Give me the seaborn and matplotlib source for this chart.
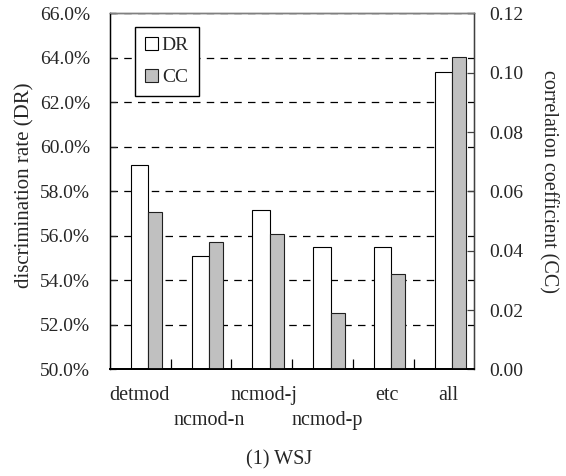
import matplotlib
matplotlib.use("Agg")
import matplotlib.pyplot as plt
import matplotlib.patches as mpatches
from matplotlib.ticker import FuncFormatter, MultipleLocator, FixedLocator
from matplotlib.transforms import blended_transform_factory, ScaledTranslation
import seaborn as sns
import pandas as pd

categories = ["detmod", "ncmod-n", "ncmod-j", "ncmod-p", "etc", "all"]
dr_values = [59.2, 55.1, 57.15, 55.5, 55.5, 63.35]
cc_values = [0.0529, 0.0428, 0.0455, 0.0189, 0.032, 0.1054]
label_rows = [0, 1, 0, 1, 0, 0]
label_shift_px = [-1, 8, 2, 4.5, 3.5, 4]
series_names = ["DR", "CC"]
title_text = "(1) WSJ"

sns.set_style("white")
plt.rcParams["font.family"] = ["Liberation Serif", "DejaVu Serif"]
plt.rcParams["font.size"] = 14

FS = 14

fig = plt.figure(figsize=(5.66, 4.76), dpi=100)
ax = fig.add_axes([0.194, 0.224, 0.644, 0.748])
ax2 = ax.twinx()

df = pd.DataFrame({"cat": categories, "DR": dr_values, "CC": cc_values})

sns.barplot(data=df, x="cat", y="DR", ax=ax, width=0.29, color="white",
            edgecolor="black", linewidth=0.8, saturation=1, zorder=2)
for p in ax.patches:
    p.set_x(p.get_x() - 0.01)

sns.barplot(data=df, x="cat", y="CC", ax=ax2, width=0.23, color="#C0C0C0",
            edgecolor="#202020", linewidth=0.8, saturation=1, zorder=2)
for p in ax2.patches:
    p.set_x(p.get_x() + 0.25)

ax.set_xlim(-0.5, 5.5)
ax.set_ylim(50, 66)
ax2.set_ylim(0, 0.12)

ax.yaxis.set_major_locator(MultipleLocator(2))
ax.yaxis.set_major_formatter(FuncFormatter(lambda v, p: f"{v:.1f}%"))
ax2.yaxis.set_major_locator(MultipleLocator(0.02))
ax2.yaxis.set_major_formatter(FuncFormatter(lambda v, p: f"{v:.2f}"))

ax.set_axisbelow(True)
ax.yaxis.grid(True, color="black", linestyle=(0, (6, 5)), linewidth=0.9)
ax.xaxis.grid(False)
ax2.grid(False)

ax.set_xticks(range(len(categories)))
ax.set_xticklabels([])
ax.tick_params(axis="x", which="major", length=0)
ax.xaxis.set_minor_locator(FixedLocator([i + 0.5 for i in range(len(categories) - 1)]))
ax.tick_params(axis="x", which="minor", direction="in", length=7, width=0.9, color="black", bottom=True)
ax.tick_params(axis="y", direction="in", length=4, width=0.9, left=True, labelsize=FS, pad=14)
ax2.tick_params(axis="y", direction="in", length=5, width=0.9, right=True, color="#404040", labelsize=FS, pad=11)

trans = blended_transform_factory(ax.transData, ax.transAxes)
for i, (c, r, s) in enumerate(zip(categories, label_rows, label_shift_px)):
    ax.text(i, -0.072 - 0.0705 * r, c, ha="center", va="center", fontsize=14.5,
            transform=trans + ScaledTranslation(s / 100, 0, fig.dpi_scale_trans))

ax.set_xlabel("")
ax2.set_xlabel("")
ax.set_ylabel("discrimination rate (DR)", fontsize=15, va="center", ha="center")
ax.yaxis.set_label_coords(-0.232, 0.516)
ax2.set_ylabel("correlation coefficient (CC)", fontsize=14.5, rotation=270, va="center", ha="center")
ax2.yaxis.set_label_coords(1.2015, 0.527)

for name, sp in ax.spines.items():
    sp.set_linewidth(1.0)
ax.spines["left"].set_color("black")
ax.spines["bottom"].set_color("black")
ax.spines["bottom"].set_linewidth(1.3)
ax2.spines["top"].set_color("#808080")
ax2.spines["right"].set_color("#404040")
ax2.spines["left"].set_color("black")
ax2.spines["bottom"].set_color("black")
ax2.spines["bottom"].set_linewidth(1.3)

handles = [mpatches.Patch(facecolor="white", edgecolor="black", linewidth=0.8, label=series_names[0]),
           mpatches.Patch(facecolor="#C0C0C0", edgecolor="#202020", linewidth=0.8, label=series_names[1])]
leg = ax2.legend(handles=handles, loc="upper left", bbox_to_anchor=(0.069, 0.962),
                 fancybox=False, framealpha=1, edgecolor="black", fontsize=FS,
                 handlelength=0.68, handleheight=0.68, handletextpad=0.2,
                 labelspacing=0.75, borderpad=0.5, borderaxespad=0)
leg.get_frame().set_linewidth(1.0)

fig.text(0.493, 0.0336, title_text, ha="center", va="center", fontsize=14.5)

fig.savefig("out.png", dpi=100)
